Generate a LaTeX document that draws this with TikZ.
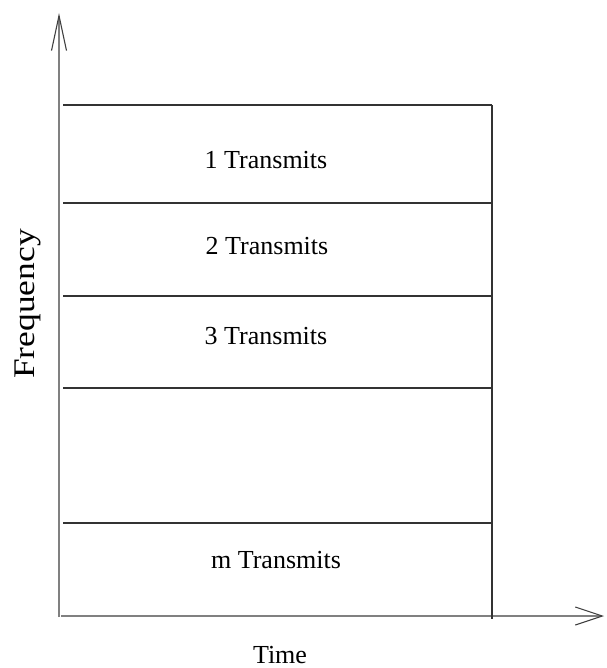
\documentclass[tikz,border=0pt]{standalone}
\usepackage{fontspec}
\setmainfont{Liberation Serif}
\usetikzlibrary{positioning,arrows.meta}

\begin{document}
\begin{tikzpicture}[x=1pt,y=-1pt,
                    axis/.style={draw=gray,line width=1.6pt},
                    band line/.style={draw=black!80,line width=1.2pt},
                    band label/.style={font=\fontsize{26}{30}\selectfont,inner sep=0pt}
                   ]
  \useasboundingbox (0,0) rectangle (606,668);
  % axes
  \coordinate (o) at (59,617);
  \coordinate (ftop) at (59,13);
  \coordinate (tstart) at (61,616);
  \coordinate (tend) at (604,616);
  \draw[axis,-{Straight Barb[length=35pt,width=15pt,line width=1.1pt,color=black!75]}] (o) -- (ftop);
  \draw[axis,-{Straight Barb[length=27pt,width=18pt,line width=1.1pt,color=black!75]}] (tstart) -- (tend);
  % band edges
  \coordinate (b0l) at (63,105);  \coordinate (b0r) at (492,105);
  \coordinate (b1l) at (63,203);  \coordinate (b1r) at (492,203);
  \coordinate (b2l) at (63,296);  \coordinate (b2r) at (492,296);
  \coordinate (b3l) at (63,388);  \coordinate (b3r) at (492,388);
  \coordinate (b4l) at (63,523);  \coordinate (b4r) at (492,523);
  \coordinate (b5r) at (492,619);
  \foreach \i in {0,...,4}
    \draw[band line] (b\i l) -- (b\i r);
  \draw[band line] (b0r) -- (b5r);
  % labels
  \node[band label] (t1) at (266,160) {1 Transmits};
  \node[band label] (t2) at (267,246) {2 Transmits};
  \node[band label] (t3) at (266,336) {3 Transmits};
  \node[band label] (tm) at (276,560) {m Transmits};
  \node[band label] (time) at (280,655) {Time};
  \node[font=\fontsize{30}{34}\selectfont,inner sep=0pt,rotate=90,xscale=1.18] (freq) at (28,304) {Frequency};
\end{tikzpicture}
\end{document}
